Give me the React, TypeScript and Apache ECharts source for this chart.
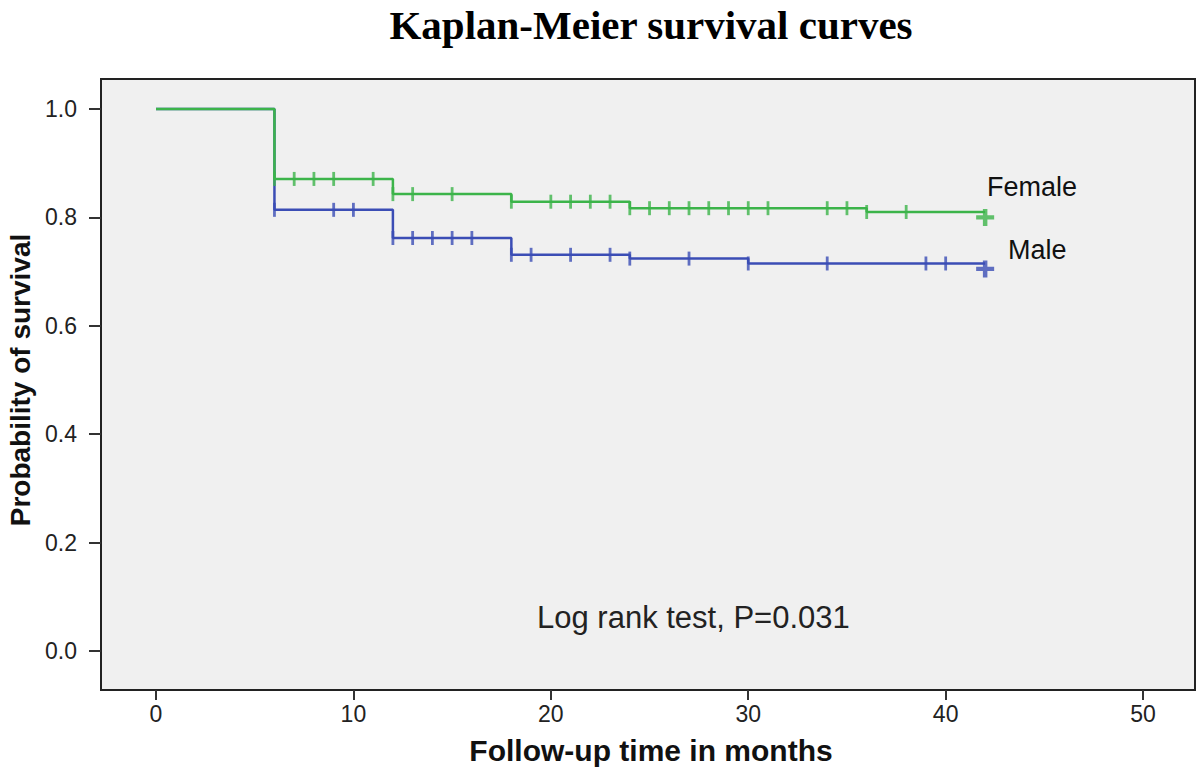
import React, { useEffect, useRef } from "react";
import * as echarts from "echarts";

// ---- data ----
const femaleTimes = [0, 6, 12, 18, 24, 36, 42];
const femaleSurv = [1, 0.871, 0.843, 0.829, 0.817, 0.81, 0.81];
const maleTimes = [0, 6, 12, 18, 24, 30, 42];
const maleSurv = [1, 0.814, 0.762, 0.731, 0.724, 0.715, 0.715];
const femaleCensored = [6, 7, 8, 9, 11, 12, 13, 15, 18, 20, 21, 22, 23, 24, 25, 26, 27, 28, 29, 30, 31, 34, 35, 36, 38];
const maleCensored = [6, 9, 10, 12, 13, 14, 15, 16, 18, 19, 21, 23, 24, 27, 30, 34, 39, 40];
const femaleEnd = [42, 0.8];
const maleEnd = [42, 0.705];
const xTicks = [0, 10, 20, 30, 40, 50];
const yTicks = [0, 0.2, 0.4, 0.6, 0.8, 1.0];
const groupLabels = ["Female", "Male"];
const testLabel = "Log rank test, P=0.031";

const FEMALE = "#3cb44a";
const MALE = "#3b4db5";

function stepValue(times: number[], surv: number[], t: number) {
  let v = surv[0];
  for (let i = 0; i < times.length; i++) if (times[i] <= t) v = surv[i];
  return v;
}

const plus = "path://M6,0h4v6h6v4h-6v6h-4v-6h-6v-4h6z";

export default function App() {
  const ref = useRef<HTMLDivElement>(null);
  useEffect(() => {
    const chart = echarts.init(ref.current!, null, { renderer: "svg" });
    const font = "'Liberation Sans', Arial, sans-serif";
    chart.setOption({
      animation: false,
      backgroundColor: "#ffffff",
      grid: {
        left: 101,
        right: 5,
        top: 79,
        bottom: 86,
        show: true,
        backgroundColor: "#f0f0f0",
        borderColor: "#222",
        borderWidth: 2,
      },
      xAxis: {
        type: "value",
        min: -2.786,
        max: 52.63,
        splitLine: { show: false },
        axisLine: { show: false, onZero: false },
        axisTick: { show: true, customValues: xTicks, length: 10, lineStyle: { color: "#333", width: 2 } },
        axisLabel: {
          customValues: xTicks,
          color: "#222",
          fontSize: 23,
          fontFamily: font,
          margin: 12,
          formatter: (v: number) => String(v),
        },
      },
      yAxis: {
        type: "value",
        min: -0.072,
        max: 1.0554,
        splitLine: { show: false },
        axisLine: { show: false, onZero: false },
        axisTick: { show: true, customValues: yTicks, length: 12, lineStyle: { color: "#333", width: 2 } },
        axisLabel: {
          customValues: yTicks,
          color: "#222",
          fontSize: 23,
          fontFamily: font,
          margin: 24,
          formatter: (v: number) => v.toFixed(1),
        },
      },
      series: [
        {
          type: "line",
          step: "end",
          data: maleTimes.map((t, i) => [t, maleSurv[i]]),
          showSymbol: false,
          lineStyle: { color: MALE, width: 2.5 },
          z: 2,
        },
        {
          type: "scatter",
          data: maleCensored.map((t) => [t, stepValue(maleTimes, maleSurv, t)]),
          symbol: "rect",
          symbolSize: [2.8, 14],
          itemStyle: { color: MALE },
          z: 3,
        },
        {
          type: "scatter",
          data: [maleEnd],
          symbol: plus,
          symbolSize: [18, 17],
          itemStyle: { color: MALE },
          z: 3,
        },
        {
          type: "line",
          step: "end",
          data: femaleTimes.map((t, i) => [t, femaleSurv[i]]),
          showSymbol: false,
          lineStyle: { color: FEMALE, width: 2.5 },
          z: 4,
        },
        {
          type: "scatter",
          data: femaleCensored.map((t) => [t, stepValue(femaleTimes, femaleSurv, t)]),
          symbol: "rect",
          symbolSize: [2.8, 14],
          itemStyle: { color: FEMALE },
          z: 5,
        },
        {
          type: "scatter",
          data: [femaleEnd],
          symbol: plus,
          symbolSize: [18, 17],
          itemStyle: { color: FEMALE },
          z: 5,
        },
      ],
      graphic: [
        {
          type: "text",
          x: 651,
          y: 25,
          style: {
            text: "Kaplan-Meier survival curves",
            font: "bold 41px 'Liberation Serif', 'Times New Roman', serif",
            fill: "#000",
            align: "center",
            verticalAlign: "middle",
          },
        },
        {
          type: "text",
          x: 987,
          y: 187,
          style: { text: groupLabels[0], font: `27px ${font}`, fill: "#111", align: "left", verticalAlign: "middle" },
        },
        {
          type: "text",
          x: 1008,
          y: 250,
          style: { text: groupLabels[1], font: `27px ${font}`, fill: "#111", align: "left", verticalAlign: "middle" },
        },
        {
          type: "text",
          x: 537,
          y: 617,
          style: { text: testLabel, font: `31px ${font}`, fill: "#222", align: "left", verticalAlign: "middle" },
        },
        {
          type: "text",
          x: 651,
          y: 750,
          style: {
            text: "Follow-up time in months",
            font: `bold 30px ${font}`,
            fill: "#111",
            align: "center",
            verticalAlign: "middle",
          },
        },
        {
          type: "text",
          x: 20,
          y: 380,
          rotation: Math.PI / 2,
          style: {
            text: "Probability of survival",
            font: `bold 28px ${font}`,
            fill: "#111",
            align: "center",
            verticalAlign: "middle",
          },
        },
      ],
    });
    return () => chart.dispose();
  }, []);
  return (
    <div
      ref={ref}
      style={{ position: "fixed", left: 0, top: 0, width: 1200, height: 776, background: "#fff" }}
    />
  );
}
